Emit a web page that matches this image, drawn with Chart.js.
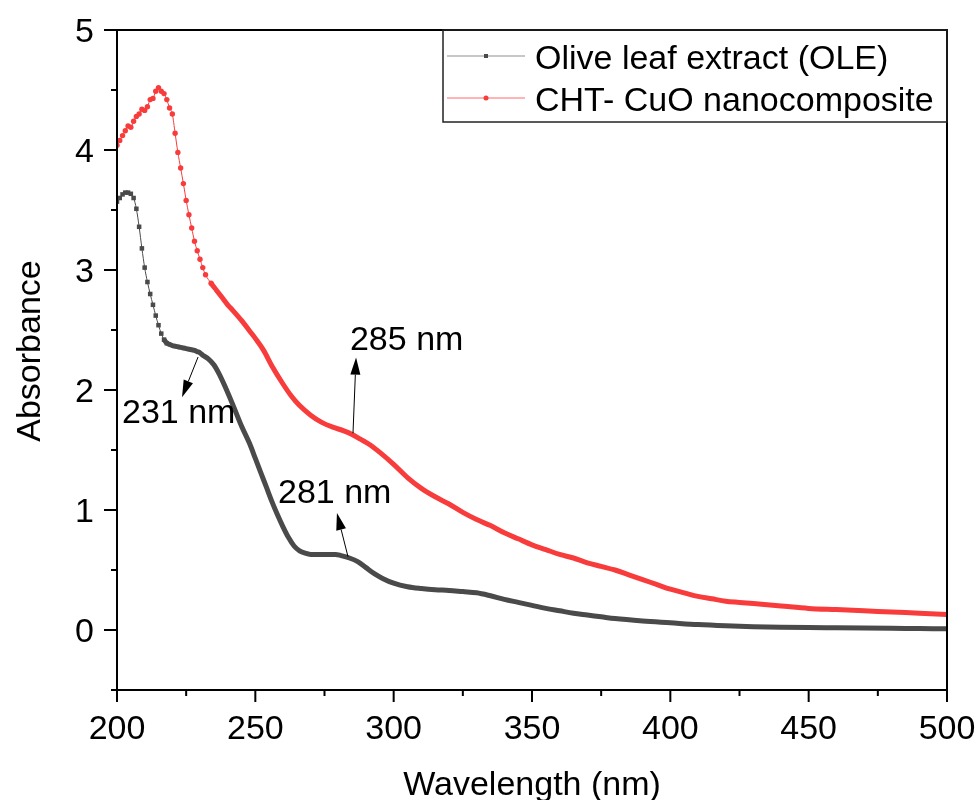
<!DOCTYPE html>
<html>
<head>
<meta charset="utf-8">
<script src="https://cdn.jsdelivr.net/npm/chart.js@4.4.1/dist/chart.umd.min.js"></script>
<style>
  body { margin: 0; background: #fff; }
  #wrap { width: 976px; height: 800px; }
</style>
</head>
<body>
<div id="wrap"><canvas id="uvChart" width="976" height="800"></canvas></div>
<script>
// UV-Vis spectra
const oleWavelength = [200, 201, 202, 203, 204, 205, 206, 207, 208, 209, 210, 211, 212, 213, 214, 215,
  216, 217, 218, 219, 220, 221, 222, 223, 224, 225, 226, 227, 228, 229, 230, 231,
  233, 235, 237, 240, 242, 245, 248, 250, 252, 254, 256, 258, 260, 262, 264, 266, 268, 270,
  273, 276, 279, 281, 284, 287, 290, 293, 296, 300, 305, 310, 315, 320, 325, 330, 335, 340,
  345, 350, 355, 360, 365, 370, 375, 380, 390, 400, 410, 420, 430, 440, 450, 460, 470, 480, 490, 500];
const oleAbsorbance = [3.57, 3.60, 3.63, 3.645, 3.645, 3.635, 3.60, 3.51, 3.36, 3.18, 3.02, 2.90, 2.80, 2.71, 2.62, 2.54,
  2.47, 2.42, 2.39, 2.38, 2.37, 2.365, 2.36, 2.355, 2.35, 2.345, 2.34, 2.335, 2.33, 2.32, 2.31, 2.29,
  2.26, 2.21, 2.13, 1.98, 1.87, 1.70, 1.55, 1.43, 1.31, 1.19, 1.07, 0.96, 0.86, 0.77, 0.70, 0.66, 0.64, 0.63,
  0.63, 0.63, 0.63, 0.62, 0.60, 0.57, 0.52, 0.47, 0.43, 0.39, 0.36, 0.345, 0.335, 0.33, 0.32, 0.31, 0.285, 0.255,
  0.23, 0.205, 0.18, 0.16, 0.14, 0.125, 0.11, 0.095, 0.075, 0.06, 0.045, 0.035, 0.028, 0.023, 0.02, 0.018, 0.016, 0.014, 0.012, 0.01];

const chtWavelength = [200, 201, 202, 203, 204, 205, 206, 207, 208, 209, 210, 211, 212, 213, 214, 215, 216,
  217, 218, 219, 220, 221, 222, 223, 224, 225, 226, 227, 228, 229, 230, 231, 232,
  234, 236, 238, 240, 242, 245, 248, 250, 253, 256, 260, 263, 266, 270, 274, 278, 282, 285, 288, 291,
  295, 300, 305, 310, 315, 320, 325, 330, 335, 340, 345, 350, 355, 360, 365, 370, 375, 380, 385, 390,
  395, 400, 405, 410, 415, 420, 425, 430, 440, 450, 460, 470, 480, 490, 500];
const chtAbsorbance = [4.04, 4.08, 4.12, 4.16, 4.20, 4.19, 4.24, 4.28, 4.30, 4.34, 4.33, 4.36, 4.42, 4.43, 4.49, 4.52, 4.49,
  4.47, 4.42, 4.35, 4.30, 4.14, 3.98, 3.85, 3.72, 3.58, 3.46, 3.35, 3.24, 3.16, 3.09, 3.02, 2.96,
  2.89, 2.83, 2.77, 2.71, 2.66, 2.58, 2.49, 2.43, 2.33, 2.20, 2.05, 1.95, 1.87, 1.79, 1.73, 1.69, 1.66, 1.63, 1.59, 1.55,
  1.48, 1.38, 1.27, 1.18, 1.11, 1.05, 0.98, 0.92, 0.87, 0.81, 0.76, 0.71, 0.67, 0.63, 0.60, 0.56, 0.53, 0.50, 0.46, 0.42,
  0.38, 0.34, 0.31, 0.28, 0.26, 0.24, 0.23, 0.22, 0.20, 0.18, 0.17, 0.16, 0.15, 0.14, 0.13];

const seriesLabels = ["Olive leaf extract (OLE)", "CHT- CuO nanocomposite"];
const xTicks = [200, 250, 300, 350, 400, 450, 500];
const yTicks = [0, 1, 2, 3, 4, 5];

// peak labels: arrow tail on curve, arrow head, text anchor (data units)
const peakNotes = [
  { text: "231 nm", tail: [229.3, 2.275], head: [223.5, 1.94], at: [201.8, 1.725] },
  { text: "281 nm", tail: [283.5, 0.61], head: [279.5, 0.975], at: [258.2, 1.06] },
  { text: "285 nm", tail: [285.3, 1.64], head: [286.4, 2.27], at: [284.2, 2.33] }
];

const FONT = "34px 'Liberation Sans', Arial, sans-serif";
const OLE_COLOR = "#4a4a4a";
const CHT_COLOR = "#f83c3c";
const oleThinUntil = 216.5;
const chtThinUntil = 232.5;

function toPoints(xs, ys) {
  return xs.map((x, i) => ({ x: x, y: ys[i] }));
}

// frame, outward ticks, tick labels, axis titles, notes and legend
const decorPlugin = {
  id: "decor",
  afterDraw(chart) {
    const ctx = chart.ctx;
    const a = chart.chartArea;
    const xs = chart.scales.x, ys = chart.scales.y;
    ctx.save();
    ctx.strokeStyle = "#000";
    ctx.lineWidth = 2;
    ctx.strokeRect(a.left, a.top, a.right - a.left, a.bottom - a.top);

    ctx.beginPath();
    for (let v = 200; v <= 500; v += 25) {
      const px = xs.getPixelForValue(v);
      const len = v % 50 === 0 ? 12 : 6;
      ctx.moveTo(px, a.bottom); ctx.lineTo(px, a.bottom + len);
    }
    for (let v = -0.5; v <= 5; v += 0.5) {
      const py = ys.getPixelForValue(v);
      const len = Number.isInteger(v) ? 13 : 6;
      ctx.moveTo(a.left, py); ctx.lineTo(a.left - len, py);
    }
    ctx.stroke();

    ctx.fillStyle = "#000";
    ctx.font = FONT;
    ctx.textBaseline = "alphabetic";
    ctx.textAlign = "center";
    xTicks.forEach(v => ctx.fillText(String(v), xs.getPixelForValue(v), 739));
    ctx.textAlign = "right";
    yTicks.forEach(v => ctx.fillText(String(v), a.left - 23, ys.getPixelForValue(v) + 12));

    ctx.textAlign = "center";
    ctx.fillText("Wavelength (nm)", (a.left + a.right) / 2, 795);
    ctx.save();
    ctx.translate(40, (a.top + a.bottom) / 2 - 9);
    ctx.rotate(-Math.PI / 2);
    ctx.fillText("Absorbance", 0, 0);
    ctx.restore();

    // peak annotations
    ctx.lineWidth = 1;
    peakNotes.forEach(n => {
      const tx = xs.getPixelForValue(n.tail[0]), ty = ys.getPixelForValue(n.tail[1]);
      const hx = xs.getPixelForValue(n.head[0]), hy = ys.getPixelForValue(n.head[1]);
      const ang = Math.atan2(hy - ty, hx - tx);
      const hl = 17, hw = 5;
      const bx = hx - hl * Math.cos(ang), by = hy - hl * Math.sin(ang);
      ctx.beginPath();
      ctx.moveTo(tx, ty); ctx.lineTo(bx, by);
      ctx.stroke();
      ctx.beginPath();
      ctx.moveTo(hx, hy);
      ctx.lineTo(bx + hw * Math.sin(ang), by - hw * Math.cos(ang));
      ctx.lineTo(bx - hw * Math.sin(ang), by + hw * Math.cos(ang));
      ctx.closePath();
      ctx.fill();
      ctx.textAlign = "left";
      ctx.fillText(n.text, xs.getPixelForValue(n.at[0]), ys.getPixelForValue(n.at[1]));
    });

    // legend box in the top right corner
    const boxW = 504, boxH = 92;
    const bx0 = a.right - boxW, by0 = a.top;
    ctx.lineWidth = 1.5;
    ctx.strokeStyle = "#222";
    ctx.strokeRect(bx0, by0, boxW, boxH);
    const rows = [
      { label: seriesLabels[0], line: "#b4b4b4", mark: OLE_COLOR, square: true },
      { label: seriesLabels[1], line: "#ff9c9c", mark: CHT_COLOR, square: false }
    ];
    rows.forEach((r, i) => {
      const y = by0 + 26 + i * 42;
      ctx.strokeStyle = r.line;
      ctx.lineWidth = 1.5;
      ctx.beginPath();
      ctx.moveTo(bx0 + 4, y); ctx.lineTo(bx0 + 82, y);
      ctx.stroke();
      ctx.fillStyle = r.mark;
      if (r.square) {
        ctx.fillRect(bx0 + 41, y - 2, 4, 4);
      } else {
        ctx.beginPath();
        ctx.arc(bx0 + 43, y, 2.5, 0, Math.PI * 2);
        ctx.fill();
      }
      ctx.fillStyle = "#000";
      ctx.textAlign = "left";
      ctx.fillText(r.label, bx0 + 92, y + 13);
    });
    ctx.restore();
  }
};

new Chart(document.getElementById("uvChart"), {
  type: "line",
  data: {
    datasets: [{
      label: seriesLabels[0],
      data: toPoints(oleWavelength, oleAbsorbance),
      borderColor: OLE_COLOR,
      backgroundColor: OLE_COLOR,
      borderWidth: 5,
      pointStyle: "rect",
      pointRadius: ctx => (ctx.raw && ctx.raw.x < oleThinUntil + 2 ? 3.2 : 0),
      pointBorderWidth: 0,
      cubicInterpolationMode: "monotone",
      segment: { borderWidth: c => (c.p0.parsed.x < oleThinUntil ? 1 : 5) }
    }, {
      label: seriesLabels[1],
      data: toPoints(chtWavelength, chtAbsorbance),
      borderColor: CHT_COLOR,
      backgroundColor: CHT_COLOR,
      borderWidth: 5,
      pointStyle: "circle",
      pointRadius: ctx => (ctx.raw && ctx.raw.x < chtThinUntil + 2 ? 2.7 : 0),
      pointBorderWidth: 0,
      cubicInterpolationMode: "monotone",
      segment: { borderWidth: c => (c.p0.parsed.x < chtThinUntil ? 1 : 5) }
    }]
  },
  options: {
    responsive: false,
    animation: false,
    layout: { padding: { top: 30, right: 29, left: 0, bottom: 0 } },
    plugins: { legend: { display: false }, tooltip: { enabled: false } },
    scales: {
      x: {
        type: "linear",
        min: 200,
        max: 500,
        afterFit: s => { s.height = 110; },
        grid: { display: false, drawTicks: false },
        border: { display: false },
        ticks: { display: false }
      },
      y: {
        type: "linear",
        min: -0.5,
        max: 5,
        afterFit: s => { s.width = 117; },
        grid: { display: false, drawTicks: false },
        border: { display: false },
        ticks: { display: false }
      }
    }
  },
  plugins: [decorPlugin]
});
</script>
</body>
</html>
